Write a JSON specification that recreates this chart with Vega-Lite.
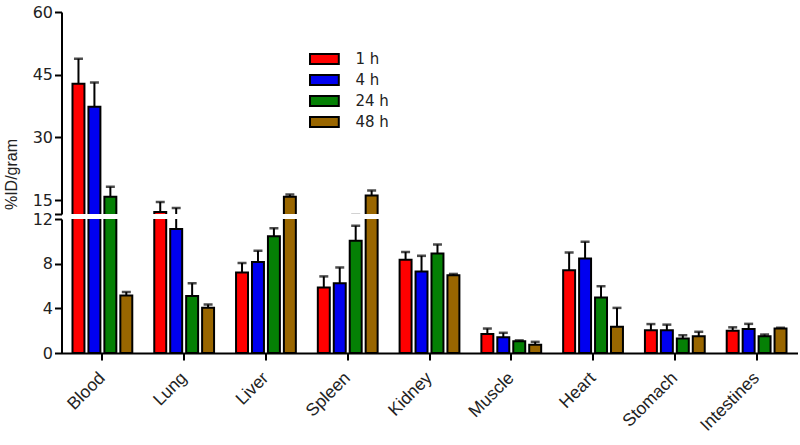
{
  "$schema": "https://vega.github.io/schema/vega-lite/v6.json",
  "background": "white",
  "padding": {"left": 2.5, "top": 4, "right": 0, "bottom": 0},
  "spacing": 5,
  "bounds": "flush",
  "config": {
    "view": {"stroke": null},
    "font": "Liberation Sans",
    "axis": {"domainColor": "black", "domainWidth": 2, "tickColor": "black", "tickWidth": 2, "tickSize": 7, "labelFontSize": 16, "labelFont": "DejaVu Sans", "labelColor": "#222", "titleFontSize": 16, "titleFontWeight": "normal", "titleColor": "#222", "grid": false, "titleFont": "Liberation Sans", "labelPadding": 2}
  },
  "datasets": {
    "d": [
      {"organ": "Blood", "time": "1 h", "value": 42.8, "err": 6.0},
      {"organ": "Blood", "time": "4 h", "value": 37.3, "err": 5.8},
      {"organ": "Blood", "time": "24 h", "value": 15.8, "err": 2.4},
      {"organ": "Blood", "time": "48 h", "value": 5.16, "err": 0.3},
      {"organ": "Lung", "time": "1 h", "value": 12.1, "err": 2.4},
      {"organ": "Lung", "time": "4 h", "value": 11.1, "err": 2.0},
      {"organ": "Lung", "time": "24 h", "value": 5.1, "err": 1.15},
      {"organ": "Lung", "time": "48 h", "value": 4.05, "err": 0.3},
      {"organ": "Liver", "time": "1 h", "value": 7.2, "err": 0.85},
      {"organ": "Liver", "time": "4 h", "value": 8.16, "err": 1.0},
      {"organ": "Liver", "time": "24 h", "value": 10.45, "err": 0.72},
      {"organ": "Liver", "time": "48 h", "value": 15.8, "err": 0.5},
      {"organ": "Spleen", "time": "1 h", "value": 5.86, "err": 1.0},
      {"organ": "Spleen", "time": "4 h", "value": 6.24, "err": 1.42},
      {"organ": "Spleen", "time": "24 h", "value": 10.05, "err": 1.35},
      {"organ": "Spleen", "time": "48 h", "value": 16.1, "err": 1.2},
      {"organ": "Kidney", "time": "1 h", "value": 8.34, "err": 0.7},
      {"organ": "Kidney", "time": "4 h", "value": 7.3, "err": 1.4},
      {"organ": "Kidney", "time": "24 h", "value": 8.92, "err": 0.8},
      {"organ": "Kidney", "time": "48 h", "value": 6.96, "err": 0.12},
      {"organ": "Muscle", "time": "1 h", "value": 1.71, "err": 0.48},
      {"organ": "Muscle", "time": "4 h", "value": 1.41, "err": 0.4},
      {"organ": "Muscle", "time": "24 h", "value": 1.05, "err": 0.08},
      {"organ": "Muscle", "time": "48 h", "value": 0.75, "err": 0.25},
      {"organ": "Heart", "time": "1 h", "value": 7.41, "err": 1.6},
      {"organ": "Heart", "time": "4 h", "value": 8.47, "err": 1.5},
      {"organ": "Heart", "time": "24 h", "value": 4.98, "err": 1.0},
      {"organ": "Heart", "time": "48 h", "value": 2.34, "err": 1.7},
      {"organ": "Stomach", "time": "1 h", "value": 2.04, "err": 0.55},
      {"organ": "Stomach", "time": "4 h", "value": 2.04, "err": 0.5},
      {"organ": "Stomach", "time": "24 h", "value": 1.29, "err": 0.3},
      {"organ": "Stomach", "time": "48 h", "value": 1.5, "err": 0.4},
      {"organ": "Intestines", "time": "1 h", "value": 2.0, "err": 0.3},
      {"organ": "Intestines", "time": "4 h", "value": 2.16, "err": 0.45},
      {"organ": "Intestines", "time": "24 h", "value": 1.5, "err": 0.15},
      {"organ": "Intestines", "time": "48 h", "value": 2.19, "err": 0.08}
    ]
  },
  "resolve": {"scale": {"fill": "independent"}, "legend": {"fill": "independent"}},
  "vconcat": [
    {
      "width": 736,
      "height": 202,
      "data": {"name": "d"},
      "transform": [{"calculate": "datum.value + datum.err", "as": "top"}],
      "encoding": {
        "x": {"field": "organ", "type": "nominal", "sort": null, "scale": {"paddingInner": 0.22, "paddingOuter": 0.11}, "axis": null},
        "xOffset": {"field": "time", "type": "nominal", "sort": ["1 h", "4 h", "24 h", "48 h"], "scale": {"paddingInner": 0.25, "paddingOuter": 0.125}}
      },
      "layer": [
        {
          "mark": {"type": "rule", "clip": true, "strokeWidth": 2, "color": "black"},
          "encoding": {
            "y": {"field": "value", "type": "quantitative"},
            "y2": {"field": "top"}
          }
        },
        {
          "mark": {"type": "tick", "clip": true, "thickness": 2.5, "size": 9, "color": "black", "orient": "horizontal"},
          "encoding": {
            "y": {"field": "top", "type": "quantitative"}
          }
        },
        {
          "mark": {"type": "bar", "clip": true, "stroke": "black", "strokeWidth": 2, "strokeOpacity": 1},
          "encoding": {
            "stroke": {"value": "black"},
            "strokeWidth": {"value": 2},
            "y": {"field": "value", "type": "quantitative", "scale": {"domain": [11.65, 60], "nice": false, "zero": false},
              "axis": {"values": [11.65, 15, 30, 45, 60], "labelExpr": "datum.value < 12 ? '' : datum.label", "title": "%ID/gram", "titleX": -45.5, "titleY": 162, "titleAlign": "center", "titleBaseline": "alphabetic", "titleAngle": -90}},
            "fill": {"field": "time", "type": "nominal", "sort": ["1 h", "4 h", "24 h", "48 h"],
              "scale": {"domain": ["1 h", "4 h", "24 h", "48 h"], "range": ["#ff0000", "#0000f0", "#058005", "#996600"]},
              "legend": {"title": null, "orient": "none", "legendX": 255.4, "legendY": 39.5, "padding": 0, "symbolType": "M-2.4,-0.85H2.4V0.85H-2.4Z", "symbolSize": 144, "symbolStrokeColor": "black", "symbolStrokeWidth": 2, "symbolOpacity": 1, "labelFont": "DejaVu Sans", "labelFontSize": 15, "labelColor": "#222", "labelOffset": 23.6, "rowPadding": 2}}
          }
        }
      ]
    },
    {
      "width": 736,
      "height": 134,
      "data": {"name": "d"},
      "transform": [{"calculate": "datum.value + datum.err", "as": "top"}],
      "encoding": {
        "x": {"field": "organ", "type": "nominal", "sort": null, "scale": {"paddingInner": 0.22, "paddingOuter": 0.11},
          "axis": {"title": null, "labelAngle": -45, "labelAlign": "right", "labelBaseline": "middle", "labelPadding": 15, "labelFont": "Liberation Sans", "labelFontSize": 17.5}},
        "xOffset": {"field": "time", "type": "nominal", "sort": ["1 h", "4 h", "24 h", "48 h"], "scale": {"paddingInner": 0.25, "paddingOuter": 0.125}}
      },
      "layer": [
        {
          "mark": {"type": "rule", "clip": true, "strokeWidth": 2, "color": "black"},
          "encoding": {
            "y": {"field": "value", "type": "quantitative"},
            "y2": {"field": "top"}
          }
        },
        {
          "mark": {"type": "tick", "clip": true, "thickness": 2.5, "size": 9, "color": "black", "orient": "horizontal"},
          "encoding": {
            "y": {"field": "top", "type": "quantitative"}
          }
        },
        {
          "mark": {"type": "bar", "clip": true, "stroke": "black", "strokeWidth": 2, "strokeOpacity": 1},
          "encoding": {
            "stroke": {"value": "black"},
            "strokeWidth": {"value": 2},
            "y": {"field": "value", "type": "quantitative", "scale": {"domain": [0, 12], "nice": false},
              "axis": {"values": [0, 4, 8, 12], "title": null}},
            "fill": {"field": "time", "type": "nominal", "sort": ["1 h", "4 h", "24 h", "48 h"],
              "scale": {"domain": ["1 h", "4 h", "24 h", "48 h"], "range": ["#ff0000", "#0000f0", "#058005", "#996600"]},
              "legend": null}
          }
        }
      ]
    }
  ]
}
